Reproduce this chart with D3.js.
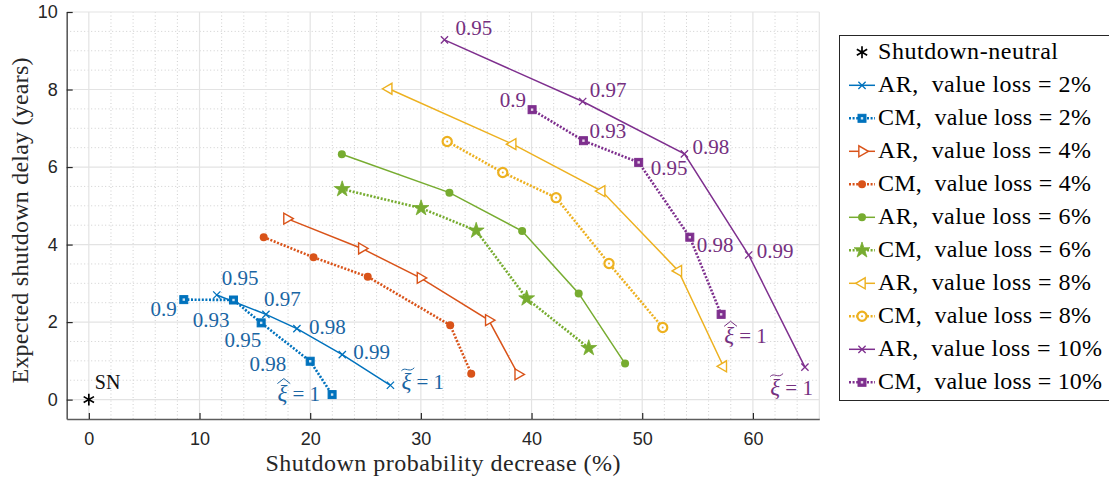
<!DOCTYPE html>
<html>
<head>
<meta charset="utf-8">
<script src="https://cdn.jsdelivr.net/npm/d3@7"></script>
<style>
  body { margin: 0; background: #fff; }
  svg { display: block; }
</style>
</head>
<body>
<svg id="chart" width="1109" height="483"></svg>
<script>
// values
var snPoint = [0, 0];
var arLevels = ['0.95', '0.97', '0.98', '0.99', '1'];
var cmLevels = ['0.9', '0.93', '0.95', '0.98', '1'];

var ar2X = [11.56, 16.0, 18.8, 22.9, 27.25];
var ar2Y = [2.70, 2.20, 1.83, 1.16, 0.37];
var cm2X = [8.58, 13.07, 15.57, 20.0, 21.98];
var cm2Y = [2.58, 2.57, 1.98, 0.99, 0.13];
var ar4X = [17.9, 24.66, 29.96, 36.13, 38.79];
var ar4Y = [4.67, 3.90, 3.14, 2.05, 0.65];
var cm4X = [15.8, 20.3, 25.2, 32.65, 34.55];
var cm4Y = [4.19, 3.67, 3.17, 1.92, 0.67];
var ar6X = [22.86, 32.58, 39.15, 44.26, 48.45];
var ar6Y = [6.33, 5.34, 4.35, 2.74, 0.93];
var cm6X = [22.89, 30.02, 35.0, 39.56, 45.17];
var cm6Y = [5.43, 4.94, 4.36, 2.61, 1.33];
var ar8X = [27.1, 38.3, 46.34, 53.27, 57.33];
var ar8Y = [8.02, 6.59, 5.38, 3.32, 0.86];
var cm8X = [32.38, 37.4, 42.22, 47.0, 51.85];
var cm8Y = [6.66, 5.86, 5.21, 3.51, 1.86];
var ar10X = [32.13, 44.62, 53.81, 59.62, 64.7];
var ar10Y = [9.28, 7.69, 6.34, 3.73, 0.84];
var cm10X = [40.05, 44.69, 49.68, 54.3, 57.13];
var cm10Y = [7.48, 6.68, 6.12, 4.19, 2.20];

var xTicks = [0, 10, 20, 30, 40, 50, 60];
var yTicks = [0, 2, 4, 6, 8, 10];

var blue = '#0072BD', orange = '#D95319', yellow = '#EDB120',
    purple = '#7E2F8E', green = '#77AC30';

var sp = '\u00A0';
var series = [
  {key: 'ar2', name: 'AR,' + sp + ' value loss = 2%', xs: ar2X, ys: ar2Y, color: blue, marker: 'times', dotted: false, levels: arLevels},
  {key: 'cm2', name: 'CM,' + sp + ' value loss = 2%', xs: cm2X, ys: cm2Y, color: blue, marker: 'square', dotted: true, levels: cmLevels},
  {key: 'ar4', name: 'AR,' + sp + ' value loss = 4%', xs: ar4X, ys: ar4Y, color: orange, marker: 'triRight', dotted: false},
  {key: 'cm4', name: 'CM,' + sp + ' value loss = 4%', xs: cm4X, ys: cm4Y, color: orange, marker: 'dot', dotted: true},
  {key: 'ar6', name: 'AR,' + sp + ' value loss = 6%', xs: ar6X, ys: ar6Y, color: green, marker: 'dot', dotted: false},
  {key: 'cm6', name: 'CM,' + sp + ' value loss = 6%', xs: cm6X, ys: cm6Y, color: green, marker: 'star', dotted: true},
  {key: 'ar8', name: 'AR,' + sp + ' value loss = 8%', xs: ar8X, ys: ar8Y, color: yellow, marker: 'triLeft', dotted: false},
  {key: 'cm8', name: 'CM,' + sp + ' value loss = 8%', xs: cm8X, ys: cm8Y, color: yellow, marker: 'ring', dotted: true},
  {key: 'ar10', name: 'AR,' + sp + ' value loss = 10%', xs: ar10X, ys: ar10Y, color: purple, marker: 'times', dotted: false, levels: arLevels},
  {key: 'cm10', name: 'CM,' + sp + ' value loss = 10%', xs: cm10X, ys: cm10Y, color: purple, marker: 'square', dotted: true, levels: cmLevels}
];

// label offsets in px from the point: [dx, dy, anchor]
var labelOffsets = {
  ar2: [[5, -10, 'start'], [-2, -8, 'start'], [12, 5, 'start'], [11, 4, 'start'], [11, 4, 'start']],
  cm2: [[-7, 16, 'end'], [-4, 27, 'end'], [0, 24, 'end'], [-24, 10, 'end'], [-12, 6, 'end']],
  ar10: [[11, -5, 'start'], [7, -5, 'start'], [8, 0, 'start'], [8, 3, 'start'], [8, 28, 'end']],
  cm10: [[-6, -3, 'end'], [6, -3, 'start'], [12, 13, 'start'], [7, 15, 'start'], [3, 29, 'start']]
};
var labelColors = {ar2: '#1a65a3', cm2: '#1a65a3', ar10: '#75307f', cm10: '#75307f'};

var mLeft = 66.7, mRight = 819.3, mTop = 12, mBottom = 419;
var serif = '"Liberation Serif", "Times New Roman", serif';
var sans = '"Liberation Sans", Arial, sans-serif';

var x = d3.scaleLinear().domain([-2, 66]).range([mLeft, mRight]);
var y = d3.scaleLinear().domain([-0.5, 10]).range([mBottom, mTop]);

var svg = d3.select('#chart');

// grid
var grid = svg.append('g');
grid.selectAll('line.minx').data(d3.range(0, 66, 2).filter(function(v) { return v % 10 !== 0; }))
  .enter().append('line')
  .attr('x1', function(d) { return x(d); }).attr('x2', function(d) { return x(d); })
  .attr('y1', mTop).attr('y2', mBottom)
  .attr('stroke', '#cfcfcf').attr('stroke-width', 1).attr('stroke-dasharray', '1,2.5');
grid.selectAll('line.miny').data(d3.range(0, 10, 0.5).filter(function(v) { return v % 2 !== 0; }))
  .enter().append('line')
  .attr('y1', function(d) { return y(d); }).attr('y2', function(d) { return y(d); })
  .attr('x1', mLeft).attr('x2', mRight)
  .attr('stroke', '#cfcfcf').attr('stroke-width', 1).attr('stroke-dasharray', '1,2.5');
grid.selectAll('line.majx').data(xTicks)
  .enter().append('line')
  .attr('x1', function(d) { return x(d); }).attr('x2', function(d) { return x(d); })
  .attr('y1', mTop).attr('y2', mBottom)
  .attr('stroke', '#e3e3e3').attr('stroke-width', 1.2);
grid.selectAll('line.majy').data(yTicks)
  .enter().append('line')
  .attr('y1', function(d) { return y(d); }).attr('y2', function(d) { return y(d); })
  .attr('x1', mLeft).attr('x2', mRight)
  .attr('stroke', '#e3e3e3').attr('stroke-width', 1.2);
grid.append('line').attr('x1', mRight).attr('x2', mRight).attr('y1', mTop).attr('y2', mBottom)
  .attr('stroke', '#e3e3e3').attr('stroke-width', 1.2);

// axes
var xAxis = svg.append('g').attr('transform', 'translate(0,' + mBottom + ')')
  .call(d3.axisBottom(x).tickValues(xTicks).tickSizeInner(-6).tickSizeOuter(0).tickPadding(13));
var yAxis = svg.append('g').attr('transform', 'translate(' + mLeft + ',0)')
  .call(d3.axisLeft(y).tickValues(yTicks).tickSizeInner(-6).tickSizeOuter(0).tickPadding(9));
[xAxis, yAxis].forEach(function(a) {
  a.attr('font-size', null).attr('font-family', null);
  a.select('.domain').attr('stroke', '#5c5c5c').attr('stroke-width', 1.6);
  a.selectAll('.tick line').attr('stroke', '#262626').attr('stroke-width', 1.2);
  a.selectAll('.tick text').attr('fill', '#262626').style('font-family', sans).style('font-size', '18px');
});

svg.append('text')
  .attr('x', (mLeft + mRight) / 2).attr('y', 471)
  .attr('text-anchor', 'middle')
  .attr('textLength', 355).attr('lengthAdjust', 'spacing')
  .style('font-family', serif).style('font-size', '24px').attr('fill', '#262626')
  .text('Shutdown probability decrease (%)');
svg.append('text')
  .attr('transform', 'translate(28,' + ((mTop + mBottom) / 2 + 5) + ') rotate(-90)')
  .attr('text-anchor', 'middle')
  .attr('textLength', 326).attr('lengthAdjust', 'spacing')
  .style('font-family', serif).style('font-size', '24px').attr('fill', '#262626')
  .text('Expected shutdown delay (years)');

// markers
function drawMarker(g, type, color) {
  if (type === 'times') {
    g.append('path').attr('d', d3.symbol(d3.symbolTimes, 36)())
      .attr('fill', 'none').attr('stroke', color).attr('stroke-width', 1.3);
  } else if (type === 'square') {
    g.append('rect').attr('x', -4).attr('y', -4).attr('width', 8).attr('height', 8)
      .attr('fill', color).attr('stroke', color).attr('stroke-width', 1);
    g.append('rect').attr('x', -1.2).attr('y', -1.2).attr('width', 2.4).attr('height', 2.4)
      .attr('fill', '#fff').attr('opacity', 0.8);
  } else if (type === 'triRight' || type === 'triLeft') {
    g.append('path').attr('d', d3.symbol(d3.symbolTriangle, 52)())
      .attr('transform', 'rotate(' + (type === 'triRight' ? 90 : -90) + ')')
      .attr('fill', '#fff').attr('stroke', color).attr('stroke-width', 1.4);
  } else if (type === 'dot') {
    g.append('circle').attr('r', 4).attr('fill', color);
  } else if (type === 'star') {
    g.append('path').attr('d', d3.symbol(d3.symbolStar, 78)())
      .attr('fill', color).attr('stroke', color).attr('stroke-width', 0.8);
  } else if (type === 'ring') {
    g.append('circle').attr('r', 4.6).attr('fill', '#fff').attr('stroke', color).attr('stroke-width', 2.2);
    g.append('circle').attr('r', 1).attr('fill', color);
  } else if (type === 'asterisk') {
    g.append('path').attr('d', d3.symbol(d3.symbolAsterisk, 100)())
      .attr('fill', 'none').attr('stroke', color).attr('stroke-width', 1.7);
  }
}

var line = d3.line()
  .x(function(d) { return x(d[0]); })
  .y(function(d) { return y(d[1]); });

var plot = svg.append('g');
series.forEach(function(s) {
  var pts = s.xs.map(function(v, i) { return [v, s.ys[i]]; });
  plot.append('path').datum(pts)
    .attr('d', line)
    .attr('fill', 'none')
    .attr('stroke', s.color)
    .attr('stroke-width', s.dotted ? 2.6 : 1.5)
    .attr('stroke-dasharray', s.dotted ? '2,1.6' : null);
  pts.forEach(function(p) {
    drawMarker(plot.append('g').attr('transform', 'translate(' + x(p[0]) + ',' + y(p[1]) + ')'), s.marker, s.color);
  });
});

// shutdown-neutral point
drawMarker(plot.append('g').attr('transform', 'translate(' + x(snPoint[0]) + ',' + y(snPoint[1]) + ')'), 'asterisk', '#000');
plot.append('text')
  .attr('x', x(snPoint[0]) + 6).attr('y', y(snPoint[1]) - 11)
  .style('font-family', serif).style('font-size', '20px').attr('fill', '#111')
  .text('SN');

// parameter labels
var labels = svg.append('g');
series.forEach(function(s) {
  var offs = labelOffsets[s.key];
  if (!offs) return;
  s.levels.forEach(function(lv, i) {
    var o = offs[i];
    var tx = x(s.xs[i]) + o[0], ty = y(s.ys[i]) + o[1];
    var col = labelColors[s.key];
    var t = labels.append('text')
      .attr('x', tx).attr('y', ty)
      .attr('text-anchor', o[2])
      .style('font-family', serif).style('font-size', '21px')
      .attr('fill', col);
    if (lv === '1') {
      t.append('tspan').style('font-style', 'italic').style('font-size', '23px').text('\u03BE');
      t.append('tspan').text(sp + '=' + sp + '1');
      // wide tilde (AR) or wide hat (CM) over the xi
      var ext = t.node().getExtentOfChar(0);
      var ax = ext.x, aw = ext.width + 3, ay = ty - 20;
      var d = s.dotted
        ? 'M' + ax + ',' + (ay + 3) + 'L' + (ax + aw / 2) + ',' + (ay - 2) + 'L' + (ax + aw) + ',' + (ay + 3)
        : 'M' + ax + ',' + (ay + 1.5) + 'C' + (ax + aw * 0.3) + ',' + (ay - 3) + ' ' + (ax + aw * 0.6) + ',' + (ay + 4) + ' ' + (ax + aw) + ',' + (ay - 1.5);
      labels.append('path').attr('d', d).attr('fill', 'none').attr('stroke', col).attr('stroke-width', 1);
    } else {
      t.text(lv);
    }
  });
});

// legend
var lg = svg.append('g');
lg.append('rect').attr('x', 839.5).attr('y', 35.5).attr('width', 280).attr('height', 365)
  .attr('fill', '#fff').attr('stroke', '#262626').attr('stroke-width', 1);
var rowY = function(i) { return 52.3 + i * 33; };
drawMarker(lg.append('g').attr('transform', 'translate(862,' + rowY(0) + ')'), 'asterisk', '#000');
lg.append('text').attr('x', 878).attr('y', rowY(0) + 7)
  .attr('textLength', 180).attr('lengthAdjust', 'spacing')
  .style('font-family', serif).style('font-size', '24px').attr('fill', '#000')
  .text('Shutdown-neutral');
series.forEach(function(s, i) {
  var yy = rowY(i + 1);
  lg.append('line').attr('x1', 849).attr('x2', 875).attr('y1', yy).attr('y2', yy)
    .attr('stroke', s.color)
    .attr('stroke-width', s.dotted ? 2.6 : 1.5)
    .attr('stroke-dasharray', s.dotted ? '2,1.6' : null);
  drawMarker(lg.append('g').attr('transform', 'translate(862,' + yy + ')'), s.marker, s.color);
  lg.append('text').attr('x', 878).attr('y', yy + 7)
    .attr('textLength', s.name.indexOf('10%') >= 0 ? 224 : 213).attr('lengthAdjust', 'spacing')
    .style('font-family', serif).style('font-size', '24px').attr('fill', '#000')
    .text(s.name);
});
</script>
</body>
</html>
